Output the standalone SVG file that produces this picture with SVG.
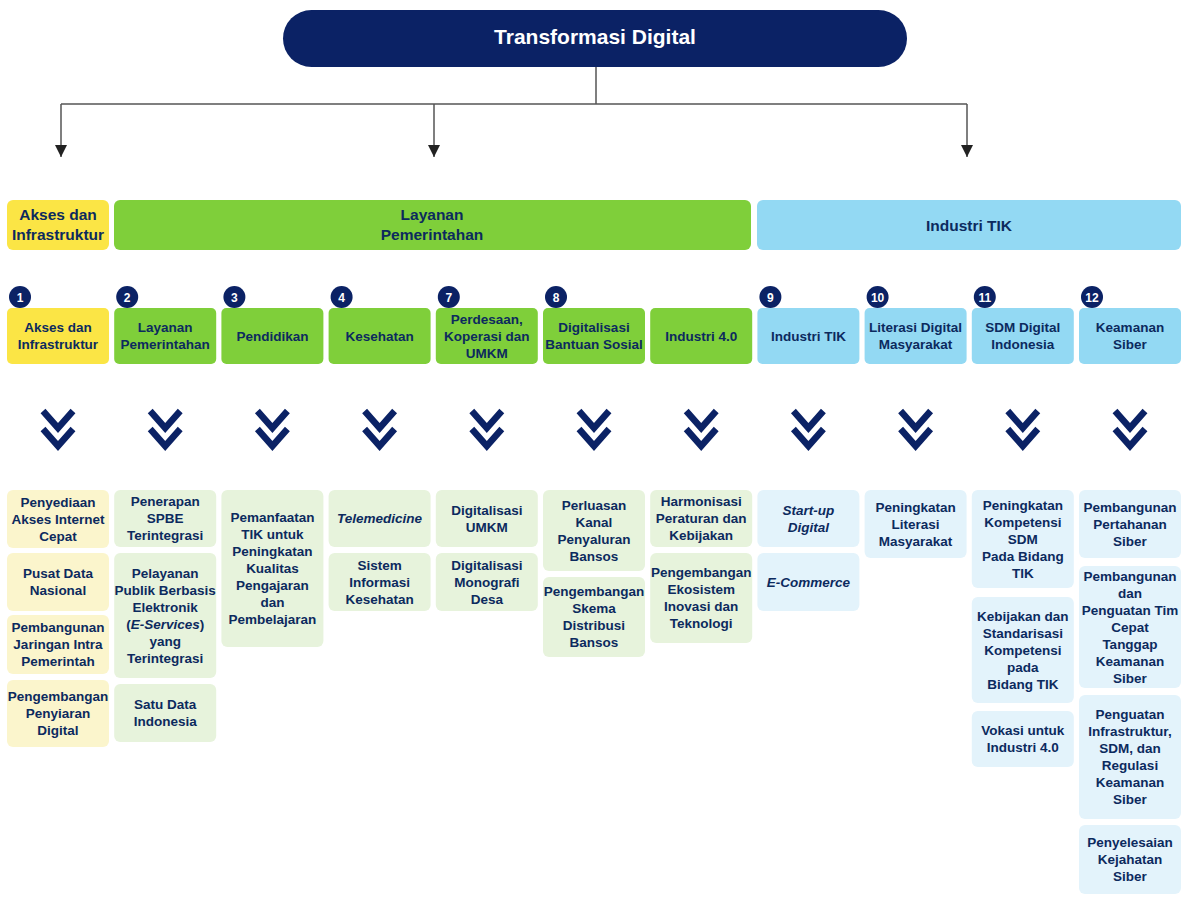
<svg xmlns="http://www.w3.org/2000/svg" width="1185" height="924" viewBox="0 0 1185 924">
<style>
text{font-family:"Liberation Sans",Arial,sans-serif;font-weight:bold;text-anchor:middle;fill:#0c2a5e}
.title{fill:#ffffff;font-size:21px}
.cat{font-size:15.5px}
.hd{font-size:13.5px}
.it{font-size:13.5px}
.num{fill:#ffffff;font-size:12px}
.i{font-style:italic}
.yel{fill:#fbe545}
.grn{fill:#7fcf3a}
.blu{fill:#93d9f3}
.pyel{fill:#fbf5cc}
.pgrn{fill:#e7f3dc}
.pblu{fill:#e3f3fb}
.circ{fill:#0b2265}
.chev{fill:none;stroke:#0b2265;stroke-width:6.5;stroke-linejoin:miter}
.con{fill:none;stroke:#555555;stroke-width:1.5}
</style>
<defs>
<marker id="arr" markerUnits="userSpaceOnUse" markerWidth="12" markerHeight="12" refX="12" refY="6" orient="auto">
<path d="M0,0 L12,6 L0,12 z" fill="#222222"/>
</marker>
<g id="chevron"><polyline class="chev" points="-15,411 0,428 15,411"/><polyline class="chev" points="-15,429 0,446 15,429"/></g>
</defs>
<rect width="1185" height="924" fill="#ffffff"/>

<g id="connectors">
<line class="con" x1="596" y1="67" x2="596" y2="104"/>
<line class="con" x1="61" y1="104" x2="967" y2="104"/>
<line class="con" x1="61" y1="104" x2="61" y2="157" marker-end="url(#arr)"/>
<line class="con" x1="434" y1="104" x2="434" y2="157" marker-end="url(#arr)"/>
<line class="con" x1="967" y1="104" x2="967" y2="157" marker-end="url(#arr)"/>
</g>

<g id="title">
<rect x="283" y="10" width="624" height="57" rx="28.5" fill="#0b2265"/>
<text class="title" x="595" y="44">Transformasi Digital</text>
</g>

<g id="cat-akses">
<rect class="yel" x="7" y="200" width="102" height="50" rx="6"/>
<text class="cat" x="58" y="220">Akses dan</text>
<text class="cat" x="58" y="240">Infrastruktur</text>
</g>
<g id="cat-layanan">
<rect class="grn" x="114" y="200" width="637" height="50" rx="6"/>
<text class="cat" x="432" y="220">Layanan</text>
<text class="cat" x="432" y="240">Pemerintahan</text>
</g>
<g id="cat-industri">
<rect class="blu" x="757" y="200" width="424" height="50" rx="6"/>
<text class="cat" x="969" y="231">Industri TIK</text>
</g>

<g id="h1">
<rect class="yel" x="7" y="308" width="102" height="56" rx="5"/>
<circle class="circ" cx="20" cy="297" r="11"/><text class="num" x="20" y="301.5">1</text>
<text class="hd" x="58" y="332">Akses dan</text><text class="hd" x="58" y="349">Infrastruktur</text>
</g>
<g id="h2">
<rect class="grn" x="114.2" y="308" width="102" height="56" rx="5"/>
<circle class="circ" cx="127.2" cy="297" r="11"/><text class="num" x="127.2" y="301.5">2</text>
<text class="hd" x="165.2" y="332">Layanan</text><text class="hd" x="165.2" y="349">Pemerintahan</text>
</g>
<g id="h3">
<rect class="grn" x="221.4" y="308" width="102" height="56" rx="5"/>
<circle class="circ" cx="234.4" cy="297" r="11"/><text class="num" x="234.4" y="301.5">3</text>
<text class="hd" x="272.4" y="340.5">Pendidikan</text>
</g>
<g id="h4">
<rect class="grn" x="328.6" y="308" width="102" height="56" rx="5"/>
<circle class="circ" cx="341.6" cy="297" r="11"/><text class="num" x="341.6" y="301.5">4</text>
<text class="hd" x="379.6" y="340.5">Kesehatan</text>
</g>
<g id="h7">
<rect class="grn" x="435.8" y="308" width="102" height="56" rx="5"/>
<circle class="circ" cx="448.8" cy="297" r="11"/><text class="num" x="448.8" y="301.5">7</text>
<text class="hd" x="486.8" y="323.5">Perdesaan,</text><text class="hd" x="486.8" y="340.5">Koperasi dan</text><text class="hd" x="486.8" y="357.5">UMKM</text>
</g>
<g id="h8">
<rect class="grn" x="543" y="308" width="102" height="56" rx="5"/>
<circle class="circ" cx="556" cy="297" r="11"/><text class="num" x="556" y="301.5">8</text>
<text class="hd" x="594" y="332">Digitalisasi</text><text class="hd" x="594" y="349">Bantuan Sosial</text>
</g>
<g id="h40">
<rect class="grn" x="650.2" y="308" width="102" height="56" rx="5"/>
<text class="hd" x="701.2" y="340.5">Industri 4.0</text>
</g>
<g id="h9">
<rect class="blu" x="757.4" y="308" width="102" height="56" rx="5"/>
<circle class="circ" cx="770.4" cy="297" r="11"/><text class="num" x="770.4" y="301.5">9</text>
<text class="hd" x="808.4" y="340.5">Industri TIK</text>
</g>
<g id="h10">
<rect class="blu" x="864.6" y="308" width="102" height="56" rx="5"/>
<circle class="circ" cx="877.6" cy="297" r="11"/><text class="num" x="877.6" y="301.5">10</text>
<text class="hd" x="915.6" y="332">Literasi Digital</text><text class="hd" x="915.6" y="349">Masyarakat</text>
</g>
<g id="h11">
<rect class="blu" x="971.8" y="308" width="102" height="56" rx="5"/>
<circle class="circ" cx="984.8" cy="297" r="11"/><text class="num" x="984.8" y="301.5">11</text>
<text class="hd" x="1022.8" y="332">SDM Digital</text><text class="hd" x="1022.8" y="349">Indonesia</text>
</g>
<g id="h12">
<rect class="blu" x="1079" y="308" width="102" height="56" rx="5"/>
<circle class="circ" cx="1092" cy="297" r="11"/><text class="num" x="1092" y="301.5">12</text>
<text class="hd" x="1130" y="332">Keamanan</text><text class="hd" x="1130" y="349">Siber</text>
</g>

<g id="chevrons">
<use href="#chevron" x="58"/>
<use href="#chevron" x="165.2"/>
<use href="#chevron" x="272.4"/>
<use href="#chevron" x="379.6"/>
<use href="#chevron" x="486.8"/>
<use href="#chevron" x="594"/>
<use href="#chevron" x="701.2"/>
<use href="#chevron" x="808.4"/>
<use href="#chevron" x="915.6"/>
<use href="#chevron" x="1022.8"/>
<use href="#chevron" x="1130"/>
</g>

<g id="c1a"><rect class="pyel" x="7" y="490" width="102" height="58" rx="6"/>
<text class="it" x="58" y="506.5">Penyediaan</text><text class="it" x="58" y="523.5">Akses Internet</text><text class="it" x="58" y="540.5">Cepat</text></g>
<g id="c1b"><rect class="pyel" x="7" y="553" width="102" height="58" rx="6"/>
<text class="it" x="58" y="578">Pusat Data</text><text class="it" x="58" y="595">Nasional</text></g>
<g id="c1c"><rect class="pyel" x="7" y="615" width="102" height="59" rx="6"/>
<text class="it" x="58" y="632">Pembangunan</text><text class="it" x="58" y="649">Jaringan Intra</text><text class="it" x="58" y="666">Pemerintah</text></g>
<g id="c1d"><rect class="pyel" x="7" y="680" width="102" height="67" rx="6"/>
<text class="it" x="58" y="701">Pengembangan</text><text class="it" x="58" y="718">Penyiaran</text><text class="it" x="58" y="735">Digital</text></g>

<g id="c2a"><rect class="pgrn" x="114.2" y="490" width="102" height="57" rx="6"/>
<text class="it" x="165.2" y="506">Penerapan</text><text class="it" x="165.2" y="523">SPBE</text><text class="it" x="165.2" y="540">Terintegrasi</text></g>
<g id="c2b"><rect class="pgrn" x="114.2" y="553" width="102" height="125" rx="6"/>
<text class="it" x="165.2" y="577.5">Pelayanan</text><text class="it" x="165.2" y="594.5">Publik Berbasis</text><text class="it" x="165.2" y="611.5">Elektronik</text><text class="it" x="165.2" y="628.5">(<tspan class="i">E-Services</tspan>)</text><text class="it" x="165.2" y="645.5">yang</text><text class="it" x="165.2" y="662.5">Terintegrasi</text></g>
<g id="c2c"><rect class="pgrn" x="114.2" y="684" width="102" height="58" rx="6"/>
<text class="it" x="165.2" y="709">Satu Data</text><text class="it" x="165.2" y="726">Indonesia</text></g>

<g id="c3a"><rect class="pgrn" x="221.4" y="490" width="102" height="157" rx="6"/>
<text class="it" x="272.4" y="522">Pemanfaatan</text><text class="it" x="272.4" y="539">TIK untuk</text><text class="it" x="272.4" y="556">Peningkatan</text><text class="it" x="272.4" y="573">Kualitas</text><text class="it" x="272.4" y="590">Pengajaran</text><text class="it" x="272.4" y="607">dan</text><text class="it" x="272.4" y="624">Pembelajaran</text></g>

<g id="c4a"><rect class="pgrn" x="328.6" y="490" width="102" height="57" rx="6"/>
<text class="it i" x="379.6" y="523">Telemedicine</text></g>
<g id="c4b"><rect class="pgrn" x="328.6" y="553" width="102" height="58" rx="6"/>
<text class="it" x="379.6" y="569.5">Sistem</text><text class="it" x="379.6" y="586.5">Informasi</text><text class="it" x="379.6" y="603.5">Kesehatan</text></g>

<g id="c7a"><rect class="pgrn" x="435.8" y="490" width="102" height="57" rx="6"/>
<text class="it" x="486.8" y="514.5">Digitalisasi</text><text class="it" x="486.8" y="531.5">UMKM</text></g>
<g id="c7b"><rect class="pgrn" x="435.8" y="553" width="102" height="58" rx="6"/>
<text class="it" x="486.8" y="569.5">Digitalisasi</text><text class="it" x="486.8" y="586.5">Monografi</text><text class="it" x="486.8" y="603.5">Desa</text></g>

<g id="c8a"><rect class="pgrn" x="543" y="490" width="102" height="81" rx="6"/>
<text class="it" x="594" y="509.5">Perluasan</text><text class="it" x="594" y="526.5">Kanal</text><text class="it" x="594" y="543.5">Penyaluran</text><text class="it" x="594" y="560.5">Bansos</text></g>
<g id="c8b"><rect class="pgrn" x="543" y="577" width="102" height="80" rx="6"/>
<text class="it" x="594" y="596">Pengembangan</text><text class="it" x="594" y="613">Skema</text><text class="it" x="594" y="630">Distribusi</text><text class="it" x="594" y="647">Bansos</text></g>

<g id="c40a"><rect class="pgrn" x="650.2" y="490" width="102" height="57" rx="6"/>
<text class="it" x="701.2" y="506">Harmonisasi</text><text class="it" x="701.2" y="523">Peraturan dan</text><text class="it" x="701.2" y="540">Kebijakan</text></g>
<g id="c40b"><rect class="pgrn" x="650.2" y="553" width="102" height="90" rx="6"/>
<text class="it" x="701.2" y="577">Pengembangan</text><text class="it" x="701.2" y="594">Ekosistem</text><text class="it" x="701.2" y="611">Inovasi dan</text><text class="it" x="701.2" y="628">Teknologi</text></g>

<g id="c9a"><rect class="pblu" x="757.4" y="490" width="102" height="57" rx="6"/>
<text class="it i" x="808.4" y="514.5">Start-up</text><text class="it i" x="808.4" y="531.5">Digital</text></g>
<g id="c9b"><rect class="pblu" x="757.4" y="553" width="102" height="58" rx="6"/>
<text class="it i" x="808.4" y="586.5">E-Commerce</text></g>

<g id="c10a"><rect class="pblu" x="864.6" y="490" width="102" height="68" rx="6"/>
<text class="it" x="915.6" y="511.5">Peningkatan</text><text class="it" x="915.6" y="528.5">Literasi</text><text class="it" x="915.6" y="545.5">Masyarakat</text></g>

<g id="c11a"><rect class="pblu" x="971.8" y="490" width="102" height="98" rx="6"/>
<text class="it" x="1022.8" y="509.5">Peningkatan</text><text class="it" x="1022.8" y="526.5">Kompetensi</text><text class="it" x="1022.8" y="543.5">SDM</text><text class="it" x="1022.8" y="560.5">Pada Bidang</text><text class="it" x="1022.8" y="577.5">TIK</text></g>
<g id="c11b"><rect class="pblu" x="971.8" y="597" width="102" height="106" rx="6"/>
<text class="it" x="1022.8" y="620.5">Kebijakan dan</text><text class="it" x="1022.8" y="637.5">Standarisasi</text><text class="it" x="1022.8" y="654.5">Kompetensi</text><text class="it" x="1022.8" y="671.5">pada</text><text class="it" x="1022.8" y="688.5">Bidang TIK</text></g>
<g id="c11c"><rect class="pblu" x="971.8" y="711" width="102" height="56" rx="6"/>
<text class="it" x="1022.8" y="735">Vokasi untuk</text><text class="it" x="1022.8" y="752">Industri 4.0</text></g>

<g id="c12a"><rect class="pblu" x="1079" y="490" width="102" height="68" rx="6"/>
<text class="it" x="1130" y="511.5">Pembangunan</text><text class="it" x="1130" y="528.5">Pertahanan</text><text class="it" x="1130" y="545.5">Siber</text></g>
<g id="c12b"><rect class="pblu" x="1079" y="566" width="102" height="122" rx="6"/>
<text class="it" x="1130" y="580.5">Pembangunan</text><text class="it" x="1130" y="597.5">dan</text><text class="it" x="1130" y="614.5">Penguatan Tim</text><text class="it" x="1130" y="631.5">Cepat</text><text class="it" x="1130" y="648.5">Tanggap</text><text class="it" x="1130" y="665.5">Keamanan</text><text class="it" x="1130" y="682.5">Siber</text></g>
<g id="c12c"><rect class="pblu" x="1079" y="695" width="102" height="124" rx="6"/>
<text class="it" x="1130" y="719">Penguatan</text><text class="it" x="1130" y="736">Infrastruktur,</text><text class="it" x="1130" y="753">SDM, dan</text><text class="it" x="1130" y="770">Regulasi</text><text class="it" x="1130" y="787">Keamanan</text><text class="it" x="1130" y="804">Siber</text></g>
<g id="c12d"><rect class="pblu" x="1079" y="825" width="102" height="69" rx="6"/>
<text class="it" x="1130" y="847">Penyelesaian</text><text class="it" x="1130" y="864">Kejahatan</text><text class="it" x="1130" y="881">Siber</text></g>
</svg>
